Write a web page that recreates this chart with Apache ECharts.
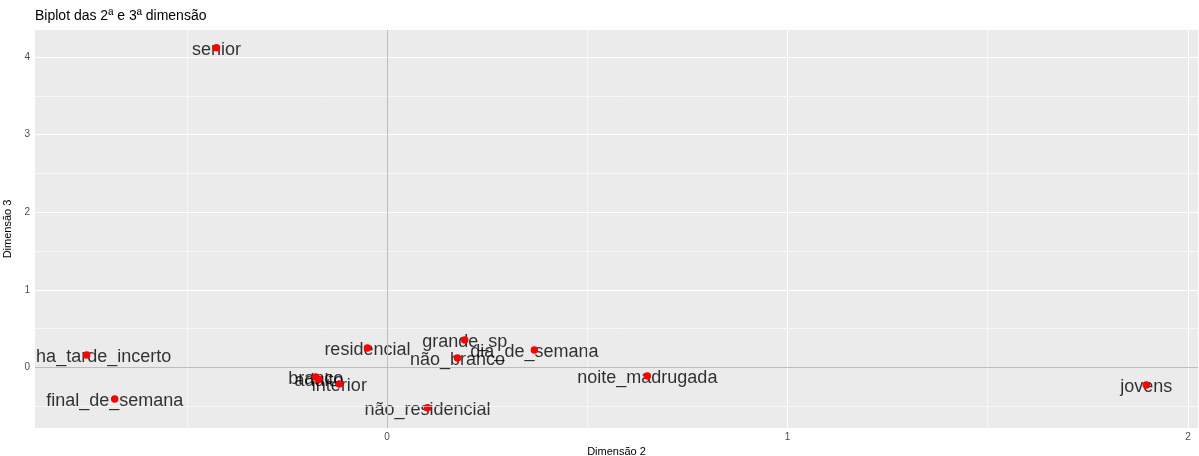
<!DOCTYPE html>
<html><head><meta charset="utf-8">
<script src="https://cdn.jsdelivr.net/npm/echarts@6/dist/echarts.min.js"></script>
<style>html,body{margin:0;padding:0;background:#fff}#c{width:1199px;height:456px}</style>
</head><body><div id="c"></div>
<script>
const categories = ['senior','ha_tarde_incerto','final_de_semana','residencial','grande_sp','dia_de_semana','não_branco','branco','adulto','interior','não_residencial','noite_madrugada','jovens'];
const dim2 = [-0.426,-0.750,-0.680,-0.049,0.194,0.368,0.176,-0.178,-0.170,-0.119,0.101,0.650,1.896];
const dim3 = [4.12,0.161,-0.406,0.25,0.354,0.225,0.122,-0.122,-0.155,-0.213,-0.52,-0.11,-0.225];
const xTickLabels = [0,1,2];
const yTickLabels = [0,1,2,3,4];
const xMajor = [0,1,2];
const xMinor = [-0.5,0.5,1.5];
const yMajor = [0,1,2,3,4];
const yMinor = [-0.5,0.5,1.5,2.5,3.5];

const labelOffsets = {'ha_tarde_incerto':[17,2]};
const FONT = 'Liberation Sans, Arial, sans-serif';

const pts = categories.map((n,i)=>{
  const d = {name:n, value:[dim2[i], dim3[i]]};
  if (labelOffsets[n]) d.label = {offset: labelOffsets[n]};
  return d;
});

const gridLines = [];
xMinor.forEach(v=>gridLines.push({xAxis:v, lineStyle:{color:'#ffffff', width:0.6, type:'solid'}}));
yMinor.forEach(v=>gridLines.push({yAxis:v, lineStyle:{color:'#ffffff', width:0.6, type:'solid'}}));
xMajor.forEach(v=>gridLines.push({xAxis:v, lineStyle:{color:'#ffffff', width:1.1, type:'solid'}}));
yMajor.forEach(v=>gridLines.push({yAxis:v, lineStyle:{color:'#ffffff', width:1.1, type:'solid'}}));
const zeroLines = [{xAxis:0},{yAxis:0}];

const chart = echarts.init(document.getElementById('c'), null, {renderer:'canvas'});
chart.setOption({
  animation:false,
  backgroundColor:'#ffffff',
  title:{text:'Biplot das 2ª e 3ª dimensão', left:35, top:9, padding:0, textStyle:{fontFamily:FONT, fontSize:14, fontWeight:'normal', color:'#000'}},
  grid:{left:35, right:1, top:30, bottom:28, show:true, backgroundColor:'#EBEBEB', borderWidth:0, containLabel:false, outerBoundsMode:'none'},
  xAxis:{type:'value', min:-0.879, max:2.025,
    name:'Dimensão 2', nameLocation:'middle', nameGap:16,
    nameTextStyle:{fontFamily:FONT, fontSize:11, color:'#000'},
    axisLine:{show:false}, splitLine:{show:false},
    axisTick:{show:true, length:3, customValues:xTickLabels, lineStyle:{color:'#333'}},
    axisLabel:{customValues:xTickLabels, margin:4, fontFamily:FONT, fontSize:10, color:'#4D4D4D'}},
  yAxis:{type:'value', min:-0.78, max:4.349,
    name:'Dimensão 3', nameLocation:'middle', nameGap:14, nameRotate:90,
    nameTextStyle:{fontFamily:FONT, fontSize:11, color:'#000'},
    axisLine:{show:false}, splitLine:{show:false},
    axisTick:{show:true, length:3, customValues:yTickLabels, lineStyle:{color:'#333'}},
    axisLabel:{customValues:yTickLabels, margin:5, fontFamily:FONT, fontSize:10, color:'#4D4D4D'}},
  series:[
    {type:'scatter', z:1, data:[], silent:true,
     markLine:{silent:true, symbol:'none', label:{show:false}, animation:false, data:gridLines}},
    {type:'scatter', z:2, data:[], silent:true,
     markLine:{silent:true, symbol:'none', label:{show:false}, animation:false,
       lineStyle:{color:'#BDBDBD', width:1, type:'solid'}, data:zeroLines}},
    {type:'scatter', z:3, symbolSize:0, data:pts, silent:true,
     label:{show:true, position:'inside', offset:[0,2], formatter:'{b}', fontFamily:FONT, fontSize:18, color:'#000'}},
    {type:'scatter', z:4, symbolSize:7.5, itemStyle:{color:'#FF0000', opacity:1}, data:pts.map(p=>({name:p.name, value:p.value}))}
  ]
});
</script></body></html>
